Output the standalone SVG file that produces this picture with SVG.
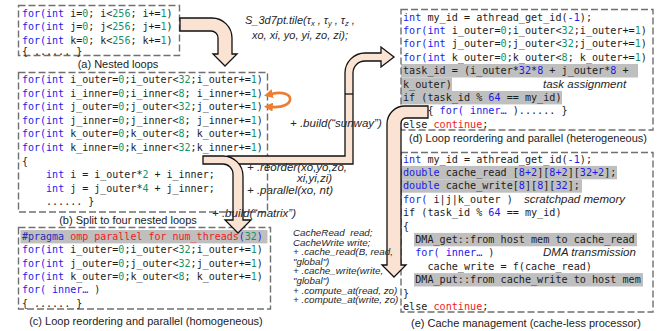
<svg xmlns="http://www.w3.org/2000/svg" width="672" height="331" viewBox="0 0 672 331">
  <style>
    .code{font-family:"DejaVu Sans Mono","Liberation Mono",monospace;font-size:10px;fill:#1c1c1c;white-space:pre}
    .wide{font-size:10.15px}
    .k{fill:#1a1aec}
    .n{fill:#12936a}
    .r{fill:#f01c1c}
    .pp{fill:#2a2ab8}
    .hl{fill:#bfbfbf}
    .frame{fill:none;stroke:#707070;stroke-width:1.4;stroke-dasharray:7 3}
    .cap{font-family:"Liberation Sans",Arial,sans-serif;font-size:11px;fill:#1c1c1c;text-anchor:middle}
    .note{font-family:"Liberation Sans",Arial,sans-serif;font-size:11.5px;font-style:italic;fill:#262626;white-space:pre}
    .tile{font-size:11px}
    .small{font-size:9.8px}
    .flow{fill:#fbe3d3;stroke:#111;stroke-width:1.3}
    .swap{fill:none;stroke:#ed7d31;stroke-width:2.6}
  </style>
  <defs>
    <marker id="swapHead" viewBox="0 0 10 10" refX="2" refY="5" markerWidth="9" markerHeight="9" markerUnits="userSpaceOnUse" orient="auto-start-reverse">
      <path d="M0,0 L10,5 L0,10 Z" fill="#ed7d31"/>
    </marker>
  </defs>
  <rect width="672" height="331" fill="#fff"/>

  <!-- (a) nested loops -->
  <g id="panel-a">
    <rect class="frame" x="18.5" y="5.5" width="161" height="50"/>
    <text class="code" x="22" y="17"><tspan class="k">for(int</tspan> i=<tspan class="n">0</tspan>; i&lt;<tspan class="n">256</tspan>; i+=<tspan class="n">1</tspan>)</text>
    <text class="code" x="22" y="30.3"><tspan class="k">for(int</tspan> j=<tspan class="n">0</tspan>; j&lt;<tspan class="n">256</tspan>; j+=<tspan class="n">1</tspan>)</text>
    <text class="code" x="22" y="43.6"><tspan class="k">for(int</tspan> k=<tspan class="n">0</tspan>; k&lt;<tspan class="n">256</tspan>; k+=<tspan class="n">1</tspan>)</text>
    <text class="code" x="22" y="55">{ ...... }</text>
    <text class="cap" x="118" y="67.5">(a) Nested loops</text>
  </g>

  <!-- (b) split loops -->
  <g id="panel-b">
    <rect class="frame" x="18.5" y="72.5" width="249" height="139.5"/>
    <text class="code" x="22" y="83"><tspan class="k">for(int</tspan> i_outer=<tspan class="n">0</tspan>;i_outer&lt;<tspan class="n">32</tspan>;i_outer+=<tspan class="n">1</tspan>)</text>
    <text class="code" x="22" y="96.6"><tspan class="k">for(int</tspan> i_inner=<tspan class="n">0</tspan>;i_inner&lt;<tspan class="n">8</tspan>; i_inner+=<tspan class="n">1</tspan>)</text>
    <text class="code" x="22" y="110.2"><tspan class="k">for(int</tspan> j_outer=<tspan class="n">0</tspan>;j_outer&lt;<tspan class="n">32</tspan>;j_outer+=<tspan class="n">1</tspan>)</text>
    <text class="code" x="22" y="123.8"><tspan class="k">for(int</tspan> j_inner=<tspan class="n">0</tspan>;j_inner&lt;<tspan class="n">8</tspan>; j_inner+=<tspan class="n">1</tspan>)</text>
    <text class="code" x="22" y="137.4"><tspan class="k">for(int</tspan> k_outer=<tspan class="n">0</tspan>;k_outer&lt;<tspan class="n">8</tspan>; k_outer+=<tspan class="n">1</tspan>)</text>
    <text class="code" x="22" y="151"><tspan class="k">for(int</tspan> k_inner=<tspan class="n">0</tspan>;k_inner&lt;<tspan class="n">32</tspan>;k_inner+=<tspan class="n">1</tspan>)</text>
    <text class="code" x="22" y="164.6">{</text>
    <text class="code" x="22" y="178.2">    <tspan class="k">int</tspan> i = i_outer*<tspan class="n">2</tspan> + i_inner;</text>
    <text class="code" x="22" y="191.8">    <tspan class="k">int</tspan> j = j_outer*<tspan class="n">4</tspan> + j_inner;</text>
    <text class="code" x="22" y="205">    ...... }</text>
    <text class="cap" x="128" y="223.5">(b) Split to four nested loops</text>
  </g>

  <!-- (c) OpenMP parallel loops -->
  <g id="panel-c">
    <rect class="hl" x="20.5" y="230" width="247" height="13.4"/>
    <rect class="frame" x="18.5" y="227.5" width="252" height="81.5"/>
    <text class="code" x="22" y="240"><tspan class="pp">#pragma</tspan> <tspan class="r">omp parallel for num_threads</tspan><tspan class="k">(</tspan><tspan class="n">32</tspan><tspan class="k">)</tspan></text>
    <text class="code" x="22" y="253.3"><tspan class="k">for(int</tspan> i_outer=<tspan class="n">0</tspan>;i_outer&lt;<tspan class="n">32</tspan>;i_outer+=<tspan class="n">1</tspan>)</text>
    <text class="code" x="22" y="266.6"><tspan class="k">for(int</tspan> j_outer=<tspan class="n">0</tspan>;j_outer&lt;<tspan class="n">32</tspan>;j_outer+=<tspan class="n">1</tspan>)</text>
    <text class="code" x="22" y="279.9"><tspan class="k">for(int</tspan> k_outer=<tspan class="n">0</tspan>;k_outer&lt;<tspan class="n">8</tspan>; k_outer+=<tspan class="n">1</tspan>)</text>
    <text class="code" x="22" y="293.2"><tspan class="k">for( inner…</tspan> )</text>
    <text class="code" x="22" y="306.5">{ ...... }</text>
    <text class="cap" x="146" y="325">(c) Loop reordering and parallel (homogeneous)</text>
  </g>

  <!-- (d) athread task distribution -->
  <g id="panel-d">
    <rect class="hl" x="401" y="64" width="237" height="13.5"/>
    <rect class="hl" x="401" y="77.5" width="51" height="13.5"/>
    <rect class="hl" x="401" y="91" width="161" height="13.4"/>
    <rect class="frame" x="401" y="9.5" width="252" height="120.5"/>
    <text class="code wide" x="403" y="20.5"><tspan class="k">int</tspan> my_id = athread_get_id(<tspan class="k">-1</tspan>);</text>
    <text class="code wide" x="403" y="33.9"><tspan class="k">for(int</tspan> i_outer=<tspan class="n">0</tspan>;i_outer&lt;<tspan class="n">32</tspan>;i_outer+=<tspan class="n">1</tspan>)</text>
    <text class="code wide" x="403" y="47.3"><tspan class="k">for(int</tspan> j_outer=<tspan class="n">0</tspan>;j_outer&lt;<tspan class="n">32</tspan>;j_outer+=<tspan class="n">1</tspan>)</text>
    <text class="code wide" x="403" y="60.7"><tspan class="k">for(int</tspan> k_outer=<tspan class="n">0</tspan>;k_outer&lt;<tspan class="n">8</tspan>; k_outer+=<tspan class="n">1</tspan>)</text>
    <text class="code wide" x="403" y="74.1">task_id = (i_outer*<tspan class="k">32</tspan>*<tspan class="k">8</tspan> + j_outer*<tspan class="k">8</tspan> +</text>
    <text class="code wide" x="403" y="87.5">k_outer)</text>
    <text class="note" x="543" y="87.5">task assignment</text>
    <text class="code wide" x="403" y="100.9">if (task_id % <tspan class="k">64</tspan> == my_id)</text>
    <text class="code wide" x="403" y="114.3">    { <tspan class="k">for( inner…</tspan> )...... }</text>
    <text class="code wide" x="403" y="127.7">else <tspan class="r">continue</tspan>;</text>
    <text class="cap" x="528" y="142">(d) Loop reordering and parallel (heterogeneous)</text>
  </g>

  <!-- (e) scratchpad cache management -->
  <g id="panel-e">
    <rect class="hl" x="401" y="165.9" width="216" height="13.4"/>
    <rect class="hl" x="401" y="179.3" width="181" height="13.4"/>
    <rect class="hl" x="414" y="232.9" width="223" height="13.4"/>
    <rect class="hl" x="414" y="273.1" width="229" height="13.4"/>
    <rect class="frame" x="401" y="152.5" width="252" height="159.5"/>
    <text class="code wide" x="403" y="162.5"><tspan class="k">int</tspan> my_id = athread_get_id(<tspan class="k">-1</tspan>);</text>
    <text class="code wide" x="403" y="175.9"><tspan class="k">double</tspan> cache_read [<tspan class="k">8+2</tspan>][<tspan class="k">8+2</tspan>][<tspan class="k">32+2</tspan>];</text>
    <text class="code wide" x="403" y="189.3"><tspan class="k">double</tspan> cache_write[<tspan class="k">8</tspan>][<tspan class="k">8</tspan>][<tspan class="k">32</tspan>];</text>
    <text class="code wide" x="403" y="202.7"><tspan class="k">for(</tspan> i|j|k_outer )</text>
    <text class="note" x="524" y="202.7">scratchpad memory</text>
    <text class="code wide" x="403" y="216.1">if (task_id % <tspan class="k">64</tspan> == my_id)</text>
    <text class="code wide" x="403" y="229.5">{</text>
    <text class="code wide" x="403" y="242.9">  DMA_get::from host mem to cache_read</text>
    <text class="code wide" x="403" y="256.3">  <tspan class="k">for( inner…</tspan> )</text>
    <text class="note" x="543" y="256.3">DMA transmission</text>
    <text class="code wide" x="403" y="269.7">    cache_write = f(cache_read)</text>
    <text class="code wide" x="403" y="283.1">  DMA_put::from cache_write to host mem</text>
    <text class="code wide" x="403" y="296.5">}</text>
    <text class="code wide" x="403" y="309.9">else <tspan class="r">continue</tspan>;</text>
    <text class="cap" x="526" y="326.5">(e) Cache management (cache-less processor)</text>
  </g>

  <!-- transformation arrows -->
  <g id="connectors">
    <path class="flow" d="M180,18 H212 A20,20 0 0 1 232,38 V54 H237 L225,66 L213,54 H218 V38 A7,7 0 0 0 211,31 H180 Z"/>
    <path class="flow" d="M228,156 H345 V73 A20,20 0 0 1 365,53 H381 V47 L394,57 L381,67 V61 H365 A12,12 0 0 0 353,73 V164 H228 Z"/>
    <line x1="345" y1="94" x2="353" y2="94" stroke="#111" stroke-width="1.3"/>
    <path class="flow" d="M203,156 H223 A20,20 0 0 1 243,176 V220 H251 L238,233 L225,220 H233 V174 A10,10 0 0 0 223,164 H203 Z"/>
    <path class="flow" d="M428,106 H405 A18,18 0 0 0 387,124 V265 H382 L394,277 L406,265 H401 V123 A5,5 0 0 1 406,118 H428 Z"/>
    <path class="swap" d="M271,94 C296,88 297,109 271,107" marker-start="url(#swapHead)" marker-end="url(#swapHead)"/>
  </g>

  <!-- schedule primitives -->
  <g id="labels">
    <text class="note tile" x="245" y="23.5">S_3d7pt.tile(τ<tspan font-size="7.5" baseline-shift="-2">x</tspan> , τ<tspan font-size="7.5" baseline-shift="-2">y</tspan> , τ<tspan font-size="7.5" baseline-shift="-2">z</tspan> ,</text>
    <text class="note tile" x="252" y="38.5">xo, xi, yo, yi, zo, zi);</text>
    <text class="note" x="290" y="127">+ .build(“sunway”)</text>
    <text class="note" x="247" y="171">+ .reorder(xo,yo,zo,</text>
    <text class="note" x="297" y="181.5">xi,yi,zi)</text>
    <text class="note" x="247" y="194">+ .parallel(xo, nt)</text>
    <text class="note" x="212" y="217">+ .build(“matrix”)</text>
    <text class="note small" x="293" y="236">CacheRead  read;</text>
    <text class="note small" x="293" y="245.6">CacheWrite write;</text>
    <text class="note small" x="293" y="255.2">+ .cache_read(B, read,</text>
    <text class="note small" x="293" y="264.8">"global")</text>
    <text class="note small" x="293" y="274.4">+ .cache_write(write,</text>
    <text class="note small" x="293" y="284">"global")</text>
    <text class="note small" x="293" y="293.6">+ .compute_at(read, zo)</text>
    <text class="note small" x="293" y="303.2">+ .compute_at(write, zo)</text>
  </g>
</svg>
